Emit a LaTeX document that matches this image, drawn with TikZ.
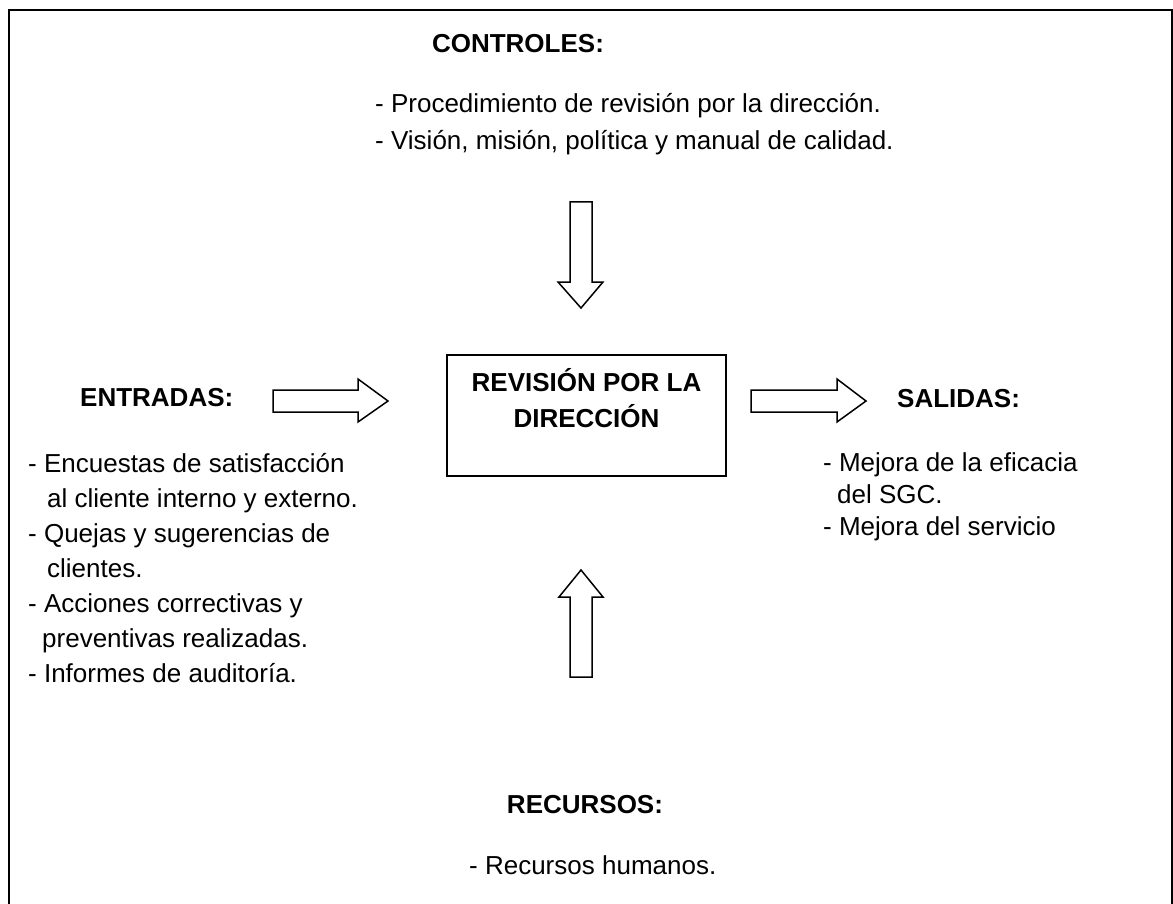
\documentclass[tikz,border=0pt]{standalone}
\usepackage{fontspec}
\setmainfont{Liberation Sans}
\begin{document}
\begin{tikzpicture}[x=1pt,y=-1pt,
  txt/.style={inner sep=0pt,font=\fontsize{26}{32}\selectfont},
  head/.style={txt,font=\fontsize{26}{32}\selectfont\bfseries},
  blockarrow/.style={draw=black,line width=1.5pt,fill=white,line join=miter},
  frame/.style={draw=black,line width=2pt}]
\useasboundingbox (0,0) rectangle (1173,904);
\clip (0,0) rectangle (1173,904);
\fill[white] (0,0) rectangle (1173,904);
\draw[frame] (9,920) -- (9,10) -- (1172,10) -- (1172,920);

% central box
\node[draw=black,line width=2pt,minimum width=279pt,minimum height=121pt,inner sep=0pt] (box) at (586.5,415.5) {};
\node[head,anchor=base] (b1) at (586.5,391) {REVISIÓN POR LA};
\node[head,anchor=base] (b2) at (586.5,427) {DIRECCIÓN};

% controles
\node[head,anchor=base] (ctl) at (518,53) {CONTROLES:};
\node[txt,anchor=base west] (c1) at (375,113) {- Procedimiento de revisión por la dirección.};
\node[txt,anchor=base west] (c2) at (375,150) {- Visión, misión, política y manual de calidad.};

% entradas
\node[head,anchor=base west] (ent) at (80,406) {ENTRADAS:};
\node[txt,anchor=base west] (e1) at (28,472) {- Encuestas de satisfacción};
\node[txt,anchor=base west] (e2) at (47,507) {al cliente interno y externo.};
\node[txt,anchor=base west] (e3) at (28,542) {- Quejas y sugerencias de};
\node[txt,anchor=base west] (e4) at (47,577) {clientes.};
\node[txt,anchor=base west] (e5) at (28,612) {- Acciones correctivas y};
\node[txt,anchor=base west] (e6) at (42,647) {preventivas realizadas.};
\node[txt,anchor=base west] (e7) at (28,682) {- Informes de auditoría.};

% salidas
\node[head,anchor=base west] (sal) at (897,407) {SALIDAS:};
\node[txt,anchor=base west] (s1) at (823,471) {- Mejora de la eficacia};
\node[txt,anchor=base west] (s2) at (837,503) {del SGC.};
\node[txt,anchor=base west] (s3) at (823,535) {- Mejora del servicio};

% recursos
\node[head,anchor=base] (rec) at (585,813) {RECURSOS:};
\node[txt,anchor=base west] (r1) at (469,874) {- Recursos humanos.};

% block arrows
\draw[blockarrow] (570,202) -- (592,202) -- (592,282) -- (603,282) -- (581,308) -- (558,282) -- (570,282) -- cycle;
\draw[blockarrow] (570,677) -- (592,677) -- (592,597) -- (603,597) -- (581,570) -- (559,597) -- (570,597) -- cycle;
\draw[blockarrow] (273,390) -- (358,390) -- (358,379) -- (388,401) -- (358,422) -- (358,412) -- (273,412) -- cycle;
\draw[blockarrow] (751,390) -- (837,390) -- (837,379) -- (866,401) -- (837,422) -- (837,412) -- (751,412) -- cycle;
\end{tikzpicture}
\end{document}
